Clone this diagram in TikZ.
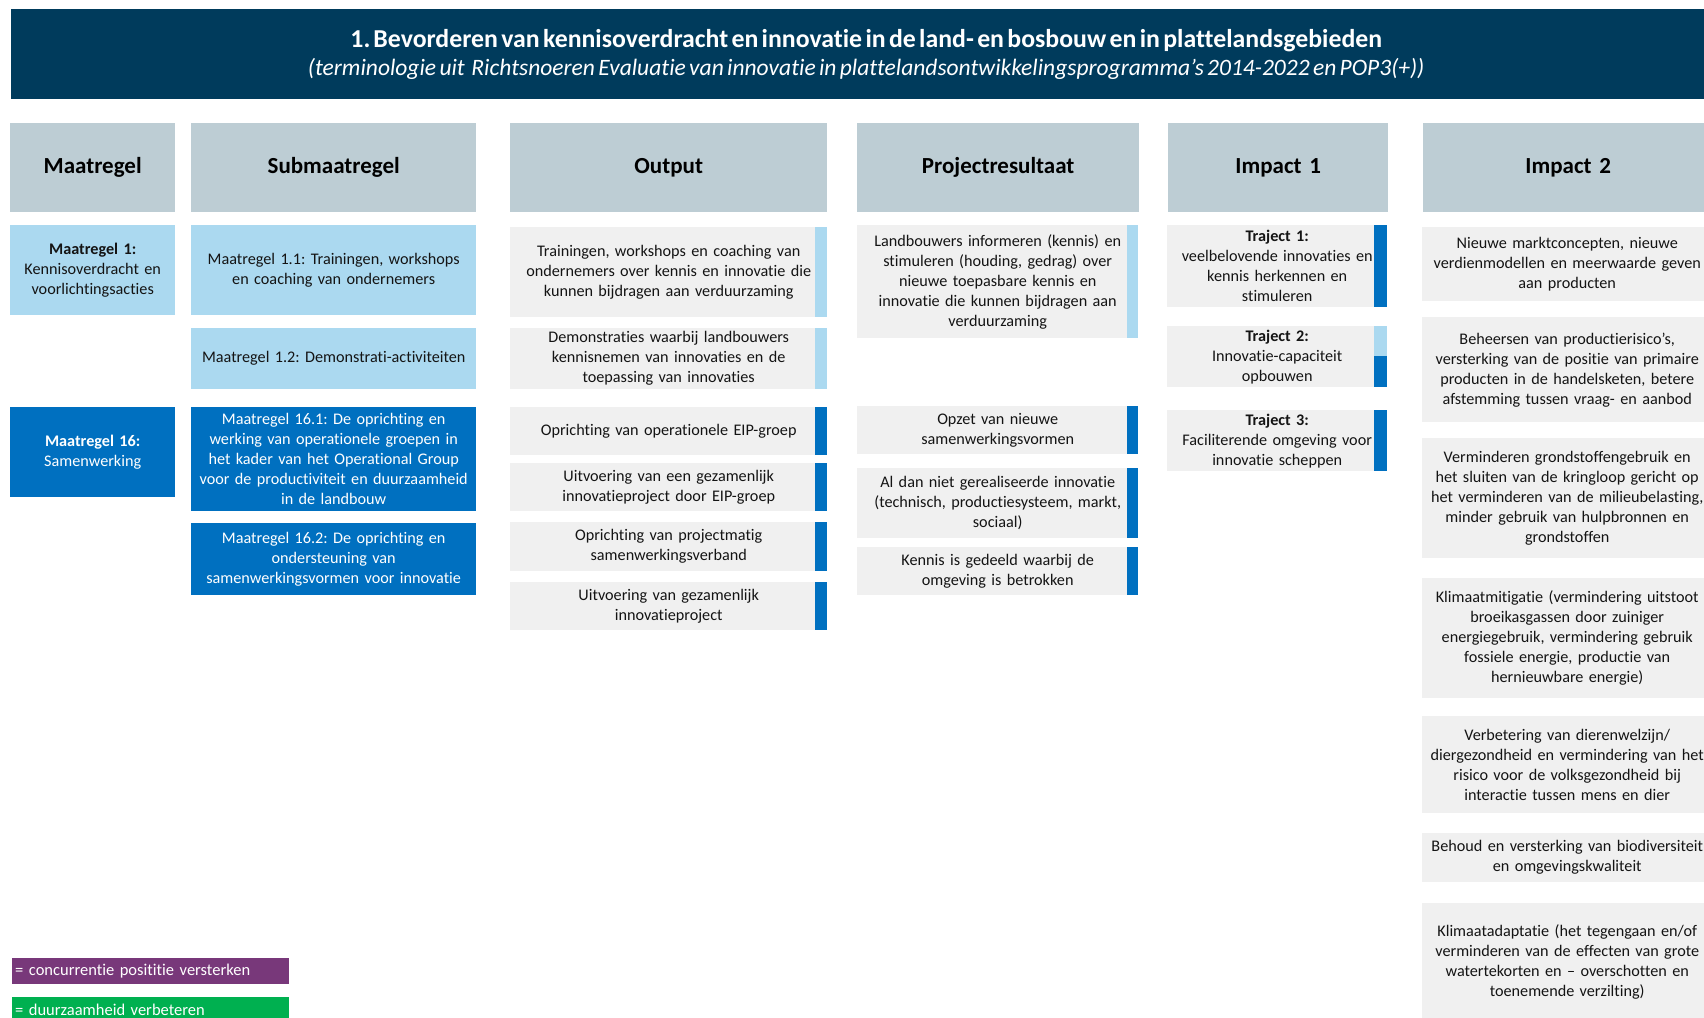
\documentclass[tikz,border=0pt]{standalone}
\usepackage{fontspec}
\setmainfont{Carlito}[Ligatures={NoCommon}]
\usepackage{tikz}
\frenchspacing

\definecolor{navy}{HTML}{003B5C}
\definecolor{headgrey}{HTML}{BDCDD4}
\definecolor{lightblue}{HTML}{ABD9F0}
\definecolor{darkblue}{HTML}{0070C0}
\definecolor{boxgrey}{HTML}{F0F0F0}
\definecolor{txtgrey}{HTML}{141414}
\definecolor{legpurple}{HTML}{78387A}
\definecolor{leggreen}{HTML}{00B050}

\begin{document}
\begin{tikzpicture}[x=1pt,y=-1pt]
		\tikzset{box/.style = {anchor=north west, inner xsep=3pt, inner ysep=0pt, align=center,
				text=txtgrey, font=\fontsize{16.2}{20}\selectfont}}
		\tikzset{maatcol/.style = {box, minimum width=165pt, text width=159pt}}
		\tikzset{subcol/.style = {box, minimum width=285pt, text width=279pt}}
		\tikzset{outcol/.style = {box, minimum width=317pt, text width=311pt}}
		\tikzset{projcol/.style = {box, minimum width=281pt, text width=275pt}}
		\tikzset{imp1col/.style = {box, minimum width=220pt, text width=214pt}}
		\tikzset{imp2col/.style = {box, minimum width=290pt, text width=284pt}}
		\tikzset{header/.style = {fill=headgrey, minimum height=89pt, text=black,
				font=\bfseries\fontsize{23}{27}\selectfont}}
		\tikzset{light/.style = {fill=lightblue}}
		\tikzset{dark/.style = {fill=darkblue, text=white}}
		\tikzset{plain/.style = {fill=boxgrey}}
		\tikzset{legend/.style = {anchor=north west, minimum width=277pt, minimum height=26pt,
				inner xsep=3pt, inner ysep=0pt, text width=271pt, align=left, text=white,
				font=\fontsize{16.5}{18}\selectfont}}
		\path[use as bounding box, fill=white] (0,0) rectangle (1704,1017);
		% title
		\node[anchor=north west, fill=navy, minimum width=1710pt, minimum height=90pt, inner sep=0pt,
			text width=1710pt, align=center, text=white] (title) at (11,9)
			{{\bfseries\fontsize{25.8}{30}\selectfont 1.\hspace{3pt}Bevorderen van kennisoverdracht en innovatie in de land- en bosbouw en in plattelandsgebieden}\\[5pt]
			{\itshape\fontsize{23.5}{28}\selectfont (terminologie uit\ \ Richtsnoeren Evaluatie van innovatie in plattelandsontwikkelingsprogramma’s 2014-2022 en POP3(+))}};
		% headers
		\node[maatcol, header] (hmaat) at (10,123) {Maatregel};
		\node[subcol, header] (hsub) at (191,123) {Submaatregel};
		\node[outcol, header] (hout) at (510,123) {Output};
		\node[projcol, header, minimum width=282pt] (hproj) at (857,123) {Projectresultaat};
		\node[imp1col, header] (himp1) at (1168,123) {Impact 1};
		\node[imp2col, header] (himp2) at (1423,123) {Impact 2};
		% maatregelen
		\node[maatcol, light, minimum height=90pt] (m1) at (10,225)
			{\textbf{Maatregel 1:}\\Kennisoverdracht en\\voorlichtingsacties};
		\node[maatcol, dark, minimum height=90pt] (m16) at (10,407)
			{\textbf{Maatregel 16:}\\Samenwerking};
		% submaatregelen
		\node[subcol, light, minimum height=90pt] (s11) at (191,225)
			{Maatregel 1.1: Trainingen, workshops\\en coaching van ondernemers};
		\node[subcol, light, minimum height=61pt] (s12) at (191,328)
			{Maatregel 1.2: Demonstrati-activiteiten};
		\node[subcol, dark, minimum height=104pt] (s161) at (191,407)
			{Maatregel 16.1: De oprichting en\\werking van operationele groepen in\\het kader van het Operational Group\\voor de productiviteit en duurzaamheid\\in de landbouw};
		\node[subcol, dark, minimum height=72pt] (s162) at (191,523)
			{Maatregel 16.2: De oprichting en\\ondersteuning van\\samenwerkingsvormen voor innovatie};
		% output
		\node[outcol, plain, minimum height=90pt] (o1) at (510,227)
			{Trainingen, workshops en coaching van\\ondernemers over kennis en innovatie die\\kunnen bijdragen aan verduurzaming};
		\node[outcol, plain, minimum height=61pt] (o2) at (510,328)
			{Demonstraties waarbij landbouwers\\kennisnemen van innovaties en de\\toepassing van innovaties};
		\node[outcol, plain, minimum height=48pt] (o3) at (510,407)
			{Oprichting van operationele EIP-groep};
		\node[outcol, plain, minimum height=48pt] (o4) at (510,463)
			{Uitvoering van een gezamenlijk\\innovatieproject door EIP-groep};
		\node[outcol, plain, minimum height=49pt] (o5) at (510,522)
			{Oprichting van projectmatig\\samenwerkingsverband};
		\node[outcol, plain, minimum height=48pt] (o6) at (510,582)
			{Uitvoering van gezamenlijk\\innovatieproject};
		\fill[lightblue] ([xshift=-12pt]o1.north east) rectangle (o1.south east);
		\fill[lightblue] ([xshift=-12pt]o2.north east) rectangle (o2.south east);
		\foreach \n in {o3,o4,o5,o6}
			\fill[darkblue] ([xshift=-12pt]\n.north east) rectangle (\n.south east);
		% projectresultaat
		\node[projcol, plain, minimum height=113pt] (p1) at (857,225)
			{Landbouwers informeren (kennis) en\\stimuleren (houding, gedrag) over\\nieuwe toepasbare kennis en\\innovatie die kunnen bijdragen aan\\verduurzaming};
		\node[projcol, plain, minimum height=48pt] (p2) at (857,406)
			{Opzet van nieuwe\\samenwerkingsvormen};
		\node[projcol, plain, minimum height=70pt] (p3) at (857,468)
			{Al dan niet gerealiseerde innovatie\\(technisch, productiesysteem, markt,\\sociaal)};
		\node[projcol, plain, minimum height=48pt] (p4) at (857,547)
			{Kennis is gedeeld waarbij de\\omgeving is betrokken};
		\fill[lightblue] ([xshift=-11pt]p1.north east) rectangle (p1.south east);
		\foreach \n in {p2,p3,p4}
			\fill[darkblue] ([xshift=-11pt]\n.north east) rectangle (\n.south east);
		% impact 1
		\node[imp1col, plain, minimum height=82pt] (t1) at (1167,225)
			{\textbf{Traject 1:}\\veelbelovende innovaties en\\kennis herkennen en\\stimuleren};
		\node[imp1col, plain, minimum height=61pt] (t2) at (1167,326)
			{\textbf{Traject 2:}\\Innovatie-capaciteit\\opbouwen};
		\node[imp1col, plain, minimum height=61pt] (t3) at (1167,410)
			{\textbf{Traject 3:}\\Faciliterende omgeving voor\\innovatie scheppen};
		\fill[darkblue] ([xshift=-13pt]t1.north east) rectangle (t1.south east);
		\fill[lightblue] ([xshift=-13pt]t2.north east) rectangle ([yshift=-30pt]t2.north east);
		\fill[darkblue] ([xshift=-13pt,yshift=-30pt]t2.north east) rectangle (t2.south east);
		\fill[darkblue] ([xshift=-13pt]t3.north east) rectangle (t3.south east);
		% impact 2
		\node[imp2col, plain, minimum height=74pt] (i1) at (1422,227)
			{Nieuwe marktconcepten, nieuwe\\verdienmodellen en meerwaarde geven\\aan producten};
		\node[imp2col, plain, minimum height=105pt] (i2) at (1422,317)
			{Beheersen van productierisico’s,\\versterking van de positie van primaire\\producten in de handelsketen, betere\\afstemming tussen vraag- en aanbod};
		\node[imp2col, plain, minimum height=120pt] (i3) at (1422,438)
			{Verminderen grondstoffengebruik en\\het sluiten van de kringloop gericht op\\het verminderen van de milieubelasting,\\minder gebruik van hulpbronnen en\\grondstoffen};
		\node[imp2col, plain, minimum height=120pt] (i4) at (1422,578)
			{Klimaatmitigatie (vermindering uitstoot\\broeikasgassen door zuiniger\\energiegebruik, vermindering gebruik\\fossiele energie, productie van\\hernieuwbare energie)};
		\node[imp2col, plain, minimum height=97pt] (i5) at (1422,716)
			{Verbetering van dierenwelzijn/\\diergezondheid en vermindering van het\\risico voor de volksgezondheid bij\\interactie tussen mens en dier};
		\node[imp2col, plain, minimum height=49pt] (i6) at (1422,833)
			{Behoud en versterking van biodiversiteit\\en omgevingskwaliteit};
		\node[imp2col, plain, minimum height=118pt] (i7) at (1422,903)
			{Klimaatadaptatie (het tegengaan en/of\\verminderen van de effecten van grote\\watertekorten en – overschotten en\\toenemende verzilting)};
		% legend
		\node[legend, fill=legpurple] (lconc) at (12,958) {= concurrentie posititie versterken};
		\node[legend, fill=leggreen] (lduur) at (12,997) {= duurzaamheid verbeteren};
\end{tikzpicture}
\end{document}
